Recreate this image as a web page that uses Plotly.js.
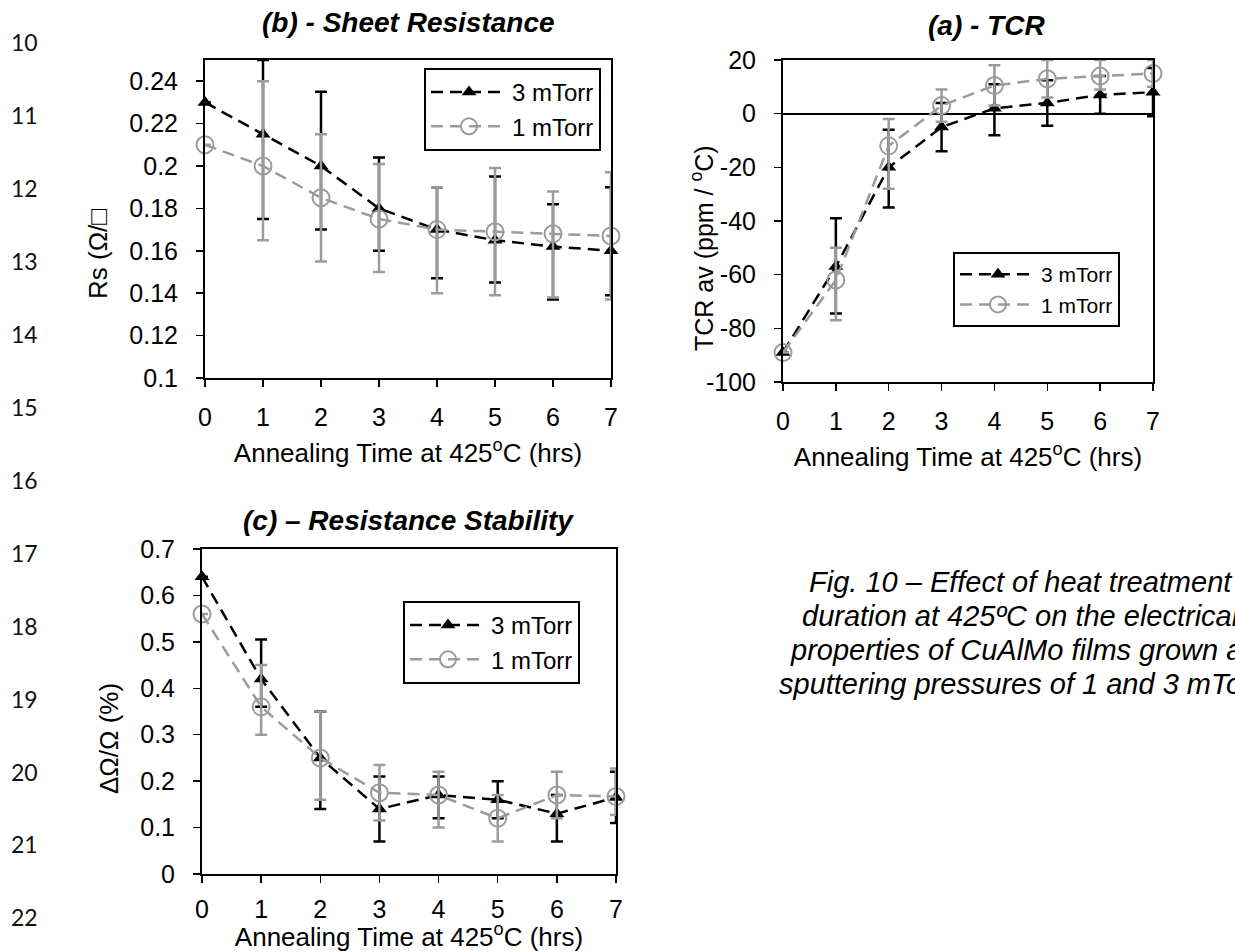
<!DOCTYPE html>
<html>
<head>
<meta charset="utf-8">
<script src="https://cdn.plot.ly/plotly-3.0.1.min.js"></script>
<style>
html,body{margin:0;padding:0;background:#fff;}
#chart{width:1235px;height:952px;}
</style>
</head>
<body>
<div id="chart"></div>
<script>
// ---------------- DATA ----------------
const hours = [0, 1, 2, 3, 4, 5, 6, 7];
const seriesNames = ["3 mTorr", "1 mTorr"];

// (b) Sheet resistance, Rs (Ω/□)
const rs3          = [0.23, 0.215, 0.2, 0.18, 0.17, 0.165, 0.162, 0.16];
const rs3ErrPlus   = [0, 0.035, 0.035, 0.024, 0.02, 0.03, 0.02, 0.03];
const rs3ErrMinus  = [0, 0.04, 0.03, 0.02, 0.023, 0.02, 0.025, 0.021];
const rs1          = [0.21, 0.2, 0.185, 0.175, 0.17, 0.169, 0.168, 0.167];
const rs1ErrPlus   = [0, 0.04, 0.03, 0.026, 0.02, 0.03, 0.02, 0.03];
const rs1ErrMinus  = [0, 0.035, 0.03, 0.025, 0.03, 0.03, 0.03, 0.03];
const rsTicks      = [0.1, 0.12, 0.14, 0.16, 0.18, 0.2, 0.22, 0.24];

// (a) TCR av (ppm / °C)
const tcr3         = [-89, -57, -20, -5, 2, 4, 7, 8];
const tcr3ErrPlus  = [0, 18, 14, 9, 9, 8.5, 7, 9];
const tcr3ErrMinus = [0, 17.5, 15, 9, 10, 8.5, 7, 9];
const tcr1         = [-89, -62, -12, 3, 10.5, 13, 14, 15];
const tcr1ErrPlus  = [0, 12, 10, 6, 7.5, 7, 6, 5];
const tcr1ErrMinus = [0, 15, 16, 6, 7.5, 7, 5, 5];
const tcrTicks     = [-100, -80, -60, -40, -20, 0, 20];

// (c) Resistance stability, ΔΩ/Ω (%)
const st3          = [0.64, 0.42, 0.25, 0.14, 0.17, 0.16, 0.13, 0.165];
const st3ErrPlus   = [0, 0.085, 0.1, 0.07, 0.04, 0.04, 0.04, 0.055];
const st3ErrMinus  = [0, 0.06, 0.11, 0.07, 0.05, 0.04, 0.06, 0.055];
const st1          = [0.56, 0.36, 0.25, 0.175, 0.17, 0.12, 0.17, 0.167];
const st1ErrPlus   = [0, 0.09, 0.1, 0.06, 0.05, 0.05, 0.05, 0.06];
const st1ErrMinus  = [0, 0.06, 0.09, 0.06, 0.07, 0.05, 0.05, 0.04];
const stTicks      = [0, 0.1, 0.2, 0.3, 0.4, 0.5, 0.6, 0.7];

const lineNumbers  = [10, 11, 12, 13, 14, 15, 16, 17, 18, 19, 20, 21, 22];
const captionLines = [
  "Fig. 10 – Effect of heat treatment",
  "duration at 425ºC on the electrical",
  "properties of CuAlMo films grown at",
  "sputtering pressures of 1 and 3 mTorr"
];

// ---------------- LAYOUT HELPERS ----------------
const W = 1235, H = 952;
const px = x => x / W;
const py = y => 1 - y / H;
const FONT = "Liberation Sans, Arial, sans-serif";
const BLACK = "#000000", GRAY = "#9b9b9b";

function mkTrace(x, y, plus, minus, which, xa, ya, leg, grp) {
  const black = which === 0;
  const col = black ? BLACK : GRAY;
  return {
    type: "scatter", mode: "lines+markers",
    x: x, y: y, name: seriesNames[which],
    xaxis: xa, yaxis: ya, legend: leg, legendgroup: grp,
    cliponaxis: false,
    line: {color: col, width: 2.5, dash: "12px,7px"},
    marker: black
      ? {symbol: "triangle-up", size: 13, color: BLACK}
      : {symbol: "circle-open", size: 17, color: GRAY, line: {width: 2, color: GRAY}},
    error_y: {type: "data", symmetric: false, array: plus, arrayminus: minus,
              color: col, thickness: 2.5, width: 6}
  };
}

const data = [
  mkTrace(hours, rs3, rs3ErrPlus, rs3ErrMinus, 0, "x", "y", "legend", "b3"),
  mkTrace(hours, rs1, rs1ErrPlus, rs1ErrMinus, 1, "x", "y", "legend", "b1"),
  mkTrace(hours, tcr3, tcr3ErrPlus, tcr3ErrMinus, 0, "x2", "y2", "legend2", "a3"),
  mkTrace(hours, tcr1, tcr1ErrPlus, tcr1ErrMinus, 1, "x2", "y2", "legend2", "a1"),
  mkTrace(hours, st3, st3ErrPlus, st3ErrMinus, 0, "x3", "y3", "legend3", "c3"),
  mkTrace(hours, st1, st1ErrPlus, st1ErrMinus, 1, "x3", "y3", "legend3", "c1")
];

const xTitle = "Annealing Time at 425<sup>o</sup>C (hrs)";

function xAxis(domain, anchor, labelGap, standoff) {
  return {
    domain: domain, anchor: anchor, range: [0, 7],
    tickvals: hours, ticktext: hours.map(String),
    ticks: "outside", ticklen: 7, tickwidth: 1.5, tickcolor: BLACK,
    ticklabelstandoff: labelGap,
    showline: true, linecolor: BLACK, linewidth: 2, mirror: true,
    showgrid: false, zeroline: false, fixedrange: true,
    tickfont: {family: FONT, size: 25, color: BLACK},
    title: {text: xTitle, font: {family: FONT, size: 26, color: BLACK}, standoff: standoff}
  };
}
function yAxis(domain, anchor, range, ticks, zero) {
  return {
    domain: domain, anchor: anchor, range: range,
    tickvals: ticks, ticktext: ticks.map(String),
    ticks: "outside", ticklen: 7, tickwidth: 1.5, tickcolor: BLACK,
    ticklabelstandoff: 13,
    showline: true, linecolor: BLACK, linewidth: 2, mirror: true,
    showgrid: false, fixedrange: true,
    zeroline: !!zero, zerolinecolor: BLACK, zerolinewidth: 2,
    tickfont: {family: FONT, size: 25, color: BLACK}
  };
}
function legendBox(x, y, size) {
  return {
    x: px(x), y: py(y), xanchor: "left", yanchor: "top",
    bgcolor: "#ffffff", bordercolor: BLACK, borderwidth: 2,
    font: {family: FONT, size: size, color: BLACK},
    itemwidth: 76, tracegroupgap: 6, traceorder: "normal"
  };
}
function ann(text, x, y, size, extra) {
  return Object.assign({
    text: text, xref: "paper", yref: "paper", x: px(x), y: py(y),
    xanchor: "center", yanchor: "middle", showarrow: false,
    font: {family: FONT, size: size, color: BLACK}
  }, extra || {});
}

const annotations = [
  ann("<b><i>(b) - Sheet Resistance</i></b>", 408, 22, 28),
  ann("<b><i>(a) - TCR</i></b>", 986, 25, 28),
  ann("<b><i>(c) – Resistance Stability</i></b>", 408, 520, 28),
  ann("Rs (Ω/□", 98, 254, 26, {textangle: -90}),
  ann("TCR av (ppm / <sup>o</sup>C)", 702, 248, 25, {textangle: -90}),
  ann("ΔΩ/Ω (%)", 109, 739, 26, {textangle: -90})
];
captionLines.forEach((t, i) => {
  annotations.push(ann("<i>" + t + "</i>", 1021, 582 + i * 34, 29));
});
lineNumbers.forEach((n, i) => {
  annotations.push(ann(String(n), 9, 42.5 + i * 72.9, 23,
    {xanchor: "left", font: {family: "Lato, Noto Sans, sans-serif", size: 23, color: "#111"}}));
});

const layout = {
  width: W, height: H,
  margin: {l: 0, r: 0, t: 0, b: 0, pad: 0},
  paper_bgcolor: "#ffffff", plot_bgcolor: "#ffffff",
  showlegend: true,
  xaxis:  xAxis([px(205), px(611)], "y", 9, 14),
  yaxis:  yAxis([py(378), py(60)], "x", [0.1, 0.25], rsTicks),
  xaxis2: xAxis([px(783), px(1153)], "y2", 9, 14),
  yaxis2: yAxis([py(382), py(60)], "x2", [-100, 20], tcrTicks, true),
  xaxis3: xAxis([px(202), px(616)], "y3", 5, 12),
  yaxis3: yAxis([py(874), py(549)], "x3", [0, 0.7], stTicks),
  legend:  legendBox(424, 68, 24),
  legend2: legendBox(953, 252, 21),
  legend3: legendBox(403, 601, 24),
  annotations: annotations
};

Plotly.newPlot("chart", data, layout, {staticPlot: true, displayModeBar: false});
</script>
</body>
</html>
